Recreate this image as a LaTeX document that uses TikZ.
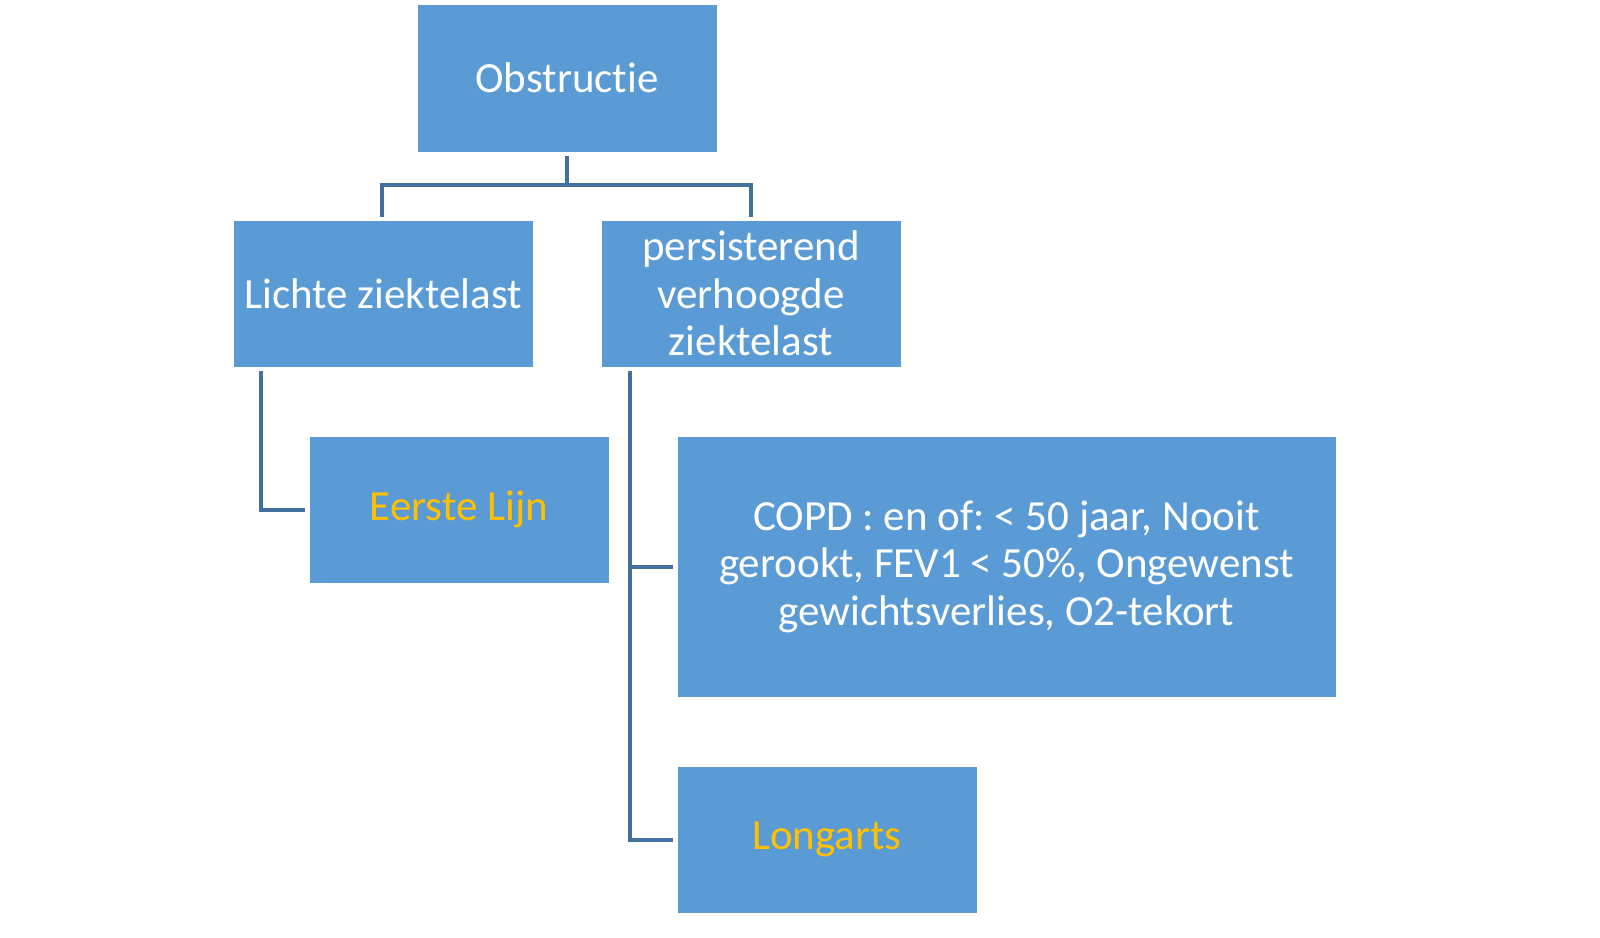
\documentclass[tikz,border=0pt]{standalone}
\usepackage{fontspec}
\setmainfont{Carlito}[Ligatures={NoCommon,NoContextual}]
\definecolor{boxfill}{HTML}{5B9BD5}
\definecolor{lineblue}{HTML}{41719C}
\definecolor{gold}{HTML}{FFC000}
\begin{document}
\frenchspacing
\begin{tikzpicture}[x=1pt,y=-1pt,
  box/.style={rectangle, fill=boxfill, draw=white, line width=0.8pt, inner sep=0pt,
    text=white, align=center, font=\fontsize{43}{47.5}\selectfont},
  conn/.style={draw=lineblue, line width=4pt}]
\useasboundingbox (0,0) rectangle (1600,937);
\node[box, minimum width=300pt, minimum height=148pt] (obs) at (567,78) {Obstructie};
\node[box, minimum width=300pt, minimum height=147pt] (licht) at (383,293.5) {Lichte ziektelast};
\node[box, minimum width=300pt, minimum height=147pt] (pers) at (751,293.5) {persisterend\\verhoogde\\ziektelast};
\node[box, minimum width=300pt, minimum height=147pt, text=gold] (eerste) at (459,509.5) {Eerste Lijn};
\node[box, minimum width=659pt, minimum height=261pt] (copd) at (1006.5,566.5) {COPD : en of: {<} 50 jaar, Nooit\\gerookt, FEV1 {<} 50\%, Ongewenst\\gewichtsverlies, O2-tekort};
\node[box, minimum width=300pt, minimum height=147pt, text=gold] (long) at (827,839.5) {Longarts};
\coordinate (j) at (567,185);
\draw[conn] ([yshift=-4pt]obs.south) -- (j);
\draw[conn] (382,217) -- (382,185) -| (751,217);
\draw[conn] ([xshift=-122pt,yshift=-4pt]licht.south) |- ([xshift=-4pt]eerste.west);
\draw[conn] ([xshift=-121pt,yshift=-4pt]pers.south) |- ([xshift=-4pt]long.west);
\draw[conn] (630,566.5) -- ([xshift=-4pt]copd.west);
\end{tikzpicture}
\end{document}
